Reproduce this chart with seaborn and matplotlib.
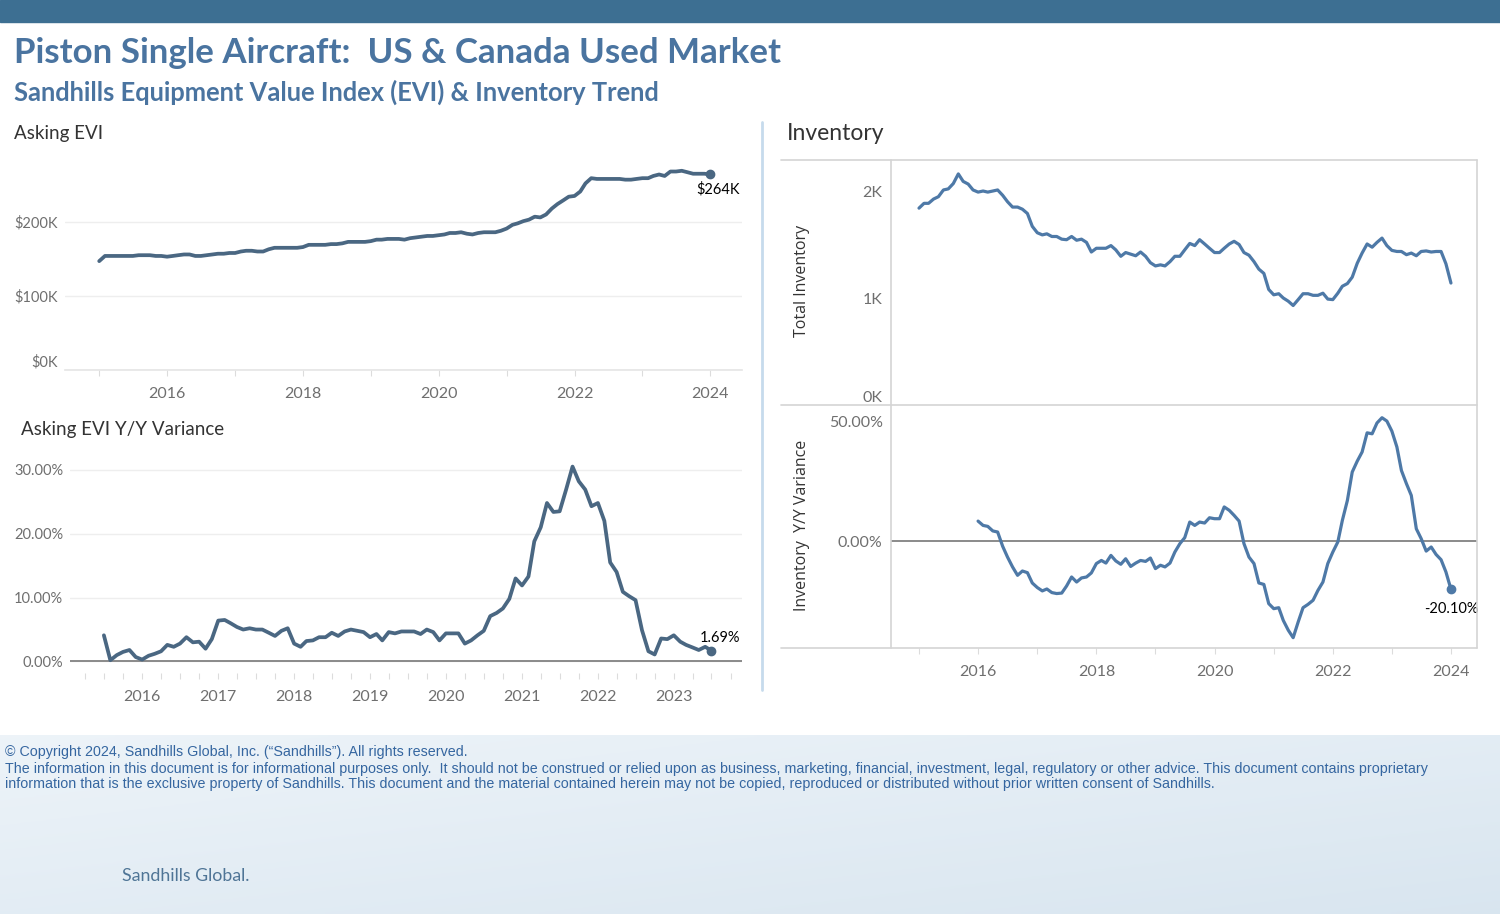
import matplotlib
matplotlib.use("Agg")
import matplotlib.pyplot as plt
import matplotlib.dates as mdates
from matplotlib.ticker import FuncFormatter
from matplotlib.lines import Line2D
from matplotlib.patches import Rectangle
import numpy as np
import pandas as pd
import seaborn as sns

# asking EVI, monthly Jan 2015 - Jan 2024, in $K
evi_k = [147, 154, 154, 154, 154, 154, 154, 155, 155, 155, 154, 154,
         153, 154, 155, 156, 156, 154, 154, 155, 156, 157, 157, 158,
         158, 160, 161, 161, 160, 160, 163, 165, 165, 165, 165, 165,
         166, 169, 169, 169, 169, 170, 170, 171, 173, 173, 173, 173,
         174, 176, 176, 177, 177, 177, 176, 178, 179, 180, 181, 181,
         182, 183, 185, 185, 186, 184, 183, 185, 186, 186, 186, 188,
         191, 196, 198, 201, 203, 207, 206, 210, 218, 224, 229, 234,
         235, 241, 252, 259, 258, 258, 258, 258, 258, 257, 257, 258,
         259, 259, 262, 264, 262, 268, 268, 269, 267, 265, 265, 265,
         264]

# asking EVI y/y variance (%), monthly Jul 2015 - Jul 2023
evi_yoy = [4.1, 0.2, 1.0, 1.5, 1.8, 0.7, 0.3, 0.9, 1.2, 1.6,
           2.6, 2.3, 2.8, 3.8, 3.0, 3.1, 2.0, 3.5, 6.4, 6.5,
           6.0, 5.4, 5.0, 5.2, 5.0, 5.0, 4.5, 4.0, 4.8, 5.2,
           2.8, 2.3, 3.2, 3.3, 3.8, 3.8, 4.5, 4.0, 4.7, 5.0,
           4.8, 4.6, 3.8, 4.3, 3.3, 4.6, 4.4, 4.7, 4.7, 4.7,
           4.3, 5.0, 4.6, 3.3, 4.4, 4.4, 4.4, 2.8, 3.3, 4.1,
           4.8, 7.1, 7.6, 8.3, 9.8, 13.0, 11.9, 13.3, 18.8, 21.0,
           24.8, 23.4, 23.5, 26.9, 30.5, 28.2, 26.9, 24.3, 24.8, 22.0,
           15.5, 14.0, 10.9, 10.2, 9.6, 4.9, 1.6, 1.1, 3.6, 3.5,
           4.1, 3.1, 2.6, 2.2, 1.8, 2.3, 1.69]

# total inventory, monthly Jan 2015 - Jan 2024
inv_total = [1840, 1885, 1885, 1925, 1947, 2010, 2020, 2070, 2160, 2090, 2065, 2010,
             1990, 2000, 1990, 2000, 2010, 1960, 1900, 1850, 1850, 1830, 1790, 1670,
             1610, 1590, 1600, 1575, 1575, 1550, 1545, 1575, 1540, 1550, 1520, 1430,
             1465, 1465, 1465, 1490, 1450, 1390, 1425, 1410, 1395, 1430, 1390, 1330,
             1300, 1310, 1300, 1340, 1390, 1390, 1450, 1510, 1490, 1545, 1505, 1465,
             1425, 1425, 1465, 1505, 1530, 1500, 1425, 1400, 1340, 1270, 1230, 1080,
             1030, 1040, 1000, 970, 930, 985, 1040, 1040, 1025, 1025, 1045, 990,
             985, 1045, 1110, 1135, 1195, 1325, 1420, 1505, 1475, 1520, 1560, 1490,
             1445, 1435, 1435, 1405, 1420, 1395, 1435, 1440, 1430, 1435, 1435, 1320,
             1140]

# inventory y/y variance (%), monthly Jan 2016 - Jan 2024
inv_yoy = [8.3, 6.5, 6.1, 4.2, 3.75, -2.2, -6.7, -10.8, -14.3, -12.5, -13.2, -17.5,
           -19.4, -20.8, -20.0, -21.5, -21.9, -21.7, -18.75, -15.0, -17.1, -15.4, -15.0, -13.3,
           -9.4, -8.1, -9.2, -6.0, -8.3, -9.7, -7.4, -10.6, -9.2, -8.1, -8.5, -7.1,
           -11.5, -10.1, -10.8, -9.2, -4.6, -1.1, 1.4, 7.9, 6.5, 7.9, 7.5, 9.7,
           9.3, 9.3, 14.2, 12.8, 10.7, 8.3, -1.1, -6.7, -9.4, -17.5, -18.1, -26.1,
           -28.2, -27.8, -33.1, -37.2, -40.3, -33.75, -27.8, -26.4, -24.7, -20.6, -17.1, -9.4,
           -4.6, -0.4, 8.6, 16.9, 28.75, 33.3, 37.1, 45.1, 44.7, 49.2, 51.4, 50.0,
           45.8, 39.2, 29.4, 23.9, 19.0, 5.1, 1.0, -4.2, -2.5, -5.6, -7.8, -12.9,
           -20.1]

evi_df = pd.DataFrame({"date": pd.date_range("2015-01-01", periods=len(evi_k), freq="MS"),
                       "value": np.array(evi_k) * 1000})
evi_yoy_df = pd.DataFrame({"date": pd.date_range("2015-07-01", periods=len(evi_yoy), freq="MS"),
                           "value": evi_yoy})
inv_df = pd.DataFrame({"date": pd.date_range("2015-01-01", periods=len(inv_total), freq="MS"),
                       "value": inv_total})
inv_yoy_df = pd.DataFrame({"date": pd.date_range("2016-01-01", periods=len(inv_yoy), freq="MS"),
                           "value": inv_yoy})

sns.set_theme(style="white")
plt.rcParams["font.family"] = ["Lato", "DejaVu Sans"]

W, H = 1500, 914
fig = plt.figure(figsize=(W / 100, H / 100), dpi=100)
fig.patch.set_facecolor("white")

def px_axes(x0, y0, x1, y1, **kw):
    return fig.add_axes([x0 / W, 1 - y1 / H, (x1 - x0) / W, (y1 - y0) / H], **kw)

def ftext(x, y, s, **kw):
    return fig.text(x / W, 1 - y / H, s, **kw)

def fline(x0, y0, x1, y1, **kw):
    fig.add_artist(Line2D([x0 / W, x1 / W], [1 - y0 / H, 1 - y1 / H], **kw))

# footer background (light sky)
bg = px_axes(0, 735, W, H, zorder=0)
gx = np.linspace(0, 1, 300)
gy = np.linspace(0, 1, 60)
GX, GY = np.meshgrid(gx, gy)
c1 = np.array([0.93, 0.955, 0.975])
c2 = np.array([0.85, 0.90, 0.94])
t = (0.5 * GX + 0.5 * GY)[..., None]
bg.imshow(c1 * (1 - t) + c2 * t, aspect="auto", extent=[0, 1, 0, 1])
bg.axis("off")

# top banner
fig.add_artist(Rectangle((0, 1 - 22 / H), 1, 22 / H, transform=fig.transFigure,
                         color="#3d6f92", zorder=1))

title_c = "#4a74a0"
ftext(14, 53, "Piston Single Aircraft:  US & Canada Used Market", fontsize=25.1,
      fontweight="bold", color=title_c, va="center")
ftext(14, 92, "Sandhills Equipment Value Index (EVI) & Inventory Trend", fontsize=18.4,
      fontweight="bold", color=title_c, va="center")

head_c = "#333333"
tick_c = "#6f6f6f"
evi_c = "#4a6782"
inv_c = "#4e79a7"

ftext(14, 133, "Asking EVI", fontsize=13.5, color=head_c, va="center")
ftext(21, 429, "Asking EVI Y/Y Variance", fontsize=13.5, color=head_c, va="center")
ftext(787, 133, "Inventory", fontsize=16.5, color=head_c, va="center")

# separator
fline(762, 122, 762, 690, color="#c6dbec", lw=2)

def style_time_axis(ax, major_years, minor):
    ax.xaxis.set_major_locator(mdates.YearLocator(major_years))
    ax.xaxis.set_major_formatter(mdates.DateFormatter("%Y"))
    ax.xaxis.set_minor_locator(minor)
    ax.tick_params(axis="x", which="both", bottom=True, length=4, width=0.8,
                   color="#dcdcdc", labelsize=11.5, labelcolor=tick_c, pad=8)
    ax.tick_params(axis="y", left=False, length=0, labelsize=10.5, labelcolor=tick_c, pad=5)
    ax.set_xlabel("")
    ax.set_ylabel("")

# ---- Asking EVI
ax1 = px_axes(65, 153, 742, 370)
sns.lineplot(data=evi_df, x="date", y="value", ax=ax1, color=evi_c, lw=2.7)
ax1.plot(evi_df["date"].iloc[-1], evi_df["value"].iloc[-1], "o", color=evi_c, ms=6)
ax1.set_xlim(pd.Timestamp("2014-07-01"), pd.Timestamp("2024-06-20"))
ax1.set_ylim(0, 293000)
ax1.set_yticks([0, 100000, 200000], labels=["$0K", "$100K", "$200K"])
ax1.get_yticklabels()[0].set_va("bottom")
ax1.grid(axis="y", color="#eeeeee", lw=1)
for s in ["top", "right", "left"]:
    ax1.spines[s].set_visible(False)
ax1.spines["bottom"].set_color("#e6e6e6")
style_time_axis(ax1, 2, mdates.YearLocator(1))
ax1.annotate("$264K", (evi_df["date"].iloc[-1], evi_df["value"].iloc[-1]),
             xytext=(6, -14), textcoords="offset points", ha="center", fontsize=10.5,
             color="black")

# ---- Asking EVI Y/Y
ax2 = px_axes(70, 457, 742, 673)
sns.lineplot(data=evi_yoy_df, x="date", y="value", ax=ax2, color=evi_c, lw=2.7)
ax2.plot(evi_yoy_df["date"].iloc[-1], evi_yoy_df["value"].iloc[-1], "o", color=evi_c, ms=6)
ax2.set_xlim(pd.Timestamp("2015-01-19"), pd.Timestamp("2023-11-25"))
ax2.set_ylim(-1.8, 32)
ax2.set_yticks([0, 10, 20, 30])
ax2.yaxis.set_major_formatter(FuncFormatter(lambda v, p: f"{v:.2f}%"))
ax2.grid(axis="y", color="#eeeeee", lw=1)
ax2.axhline(0, color="#8a8a8a", lw=1.4, zorder=1)
for s in ["top", "right", "left", "bottom"]:
    ax2.spines[s].set_visible(False)
style_time_axis(ax2, 1, mdates.MonthLocator(bymonth=[4, 7, 10]))
ax2.annotate("1.69%", (evi_yoy_df["date"].iloc[-1], evi_yoy_df["value"].iloc[-1]),
             xytext=(6, 6), textcoords="offset points", ha="center", fontsize=10.5,
             color="black")

# ---- Inventory frame lines
frame_c = "#d4d4d4"
fline(781, 160, 1477, 160, color=frame_c, lw=1.2)
fline(781, 405, 1477, 405, color=frame_c, lw=1.2)
fline(781, 648, 1477, 648, color=frame_c, lw=1.2)
fline(891, 160, 891, 648, color=frame_c, lw=1.2)
fline(1477, 160, 1477, 648, color=frame_c, lw=1.2)

# ---- Total inventory
ax3 = px_axes(891, 160, 1477, 405)
sns.lineplot(data=inv_df, x="date", y="value", ax=ax3, color=inv_c, lw=2.3)
ax3.set_xlim(pd.Timestamp("2014-07-12"), pd.Timestamp("2024-06-10"))
ax3.set_ylim(0, 2290)
ax3.set_yticks([0, 1000, 2000], labels=["0K", "1K", "2K"])
ax3.get_yticklabels()[0].set_va("bottom")
for s in ax3.spines.values():
    s.set_visible(False)
ax3.set_xticks([])
ax3.tick_params(axis="y", left=False, length=0, labelsize=11.5, labelcolor=tick_c, pad=6)
ax3.set_xlabel("")
ax3.set_ylabel("")
ftext(802, 281, "Total Inventory", rotation=90, fontsize=11.5, color=head_c,
      ha="center", va="center", family=["Open Sans", "DejaVu Sans"])

# ---- Inventory Y/Y
ax4 = px_axes(891, 405, 1477, 648)
sns.lineplot(data=inv_yoy_df, x="date", y="value", ax=ax4, color=inv_c, lw=2.3)
ax4.plot(inv_yoy_df["date"].iloc[-1], inv_yoy_df["value"].iloc[-1], "o", color=inv_c, ms=6)
ax4.set_xlim(pd.Timestamp("2014-07-12"), pd.Timestamp("2024-06-10"))
ax4.set_ylim(-44.6, 56.7)
ax4.set_yticks([0, 50])
ax4.yaxis.set_major_formatter(FuncFormatter(lambda v, p: f"{v:.2f}%"))
ax4.axhline(0, color="#8a8a8a", lw=1.4, zorder=1)
for s in ax4.spines.values():
    s.set_visible(False)
style_time_axis(ax4, 2, mdates.YearLocator(1))
ax4.tick_params(axis="y", labelsize=11.5, pad=6)
ax4.annotate("-20.10%", (inv_yoy_df["date"].iloc[-1], inv_yoy_df["value"].iloc[-1]),
             xytext=(0, -17), textcoords="offset points", ha="center", fontsize=10.5,
             color="black")
ftext(802, 525, "Inventory  Y/Y Variance", rotation=90, fontsize=11.5, color=head_c,
      ha="center", va="center", family=["Open Sans", "DejaVu Sans"])

# ---- footer text
foot_c = "#3566a0"
foot_font = ["Liberation Sans", "DejaVu Sans"]
foot_size = 10.3
ftext(5, 752, "\u00a9 Copyright 2024, Sandhills Global, Inc. (\u201cSandhills\u201d). All rights reserved.",
      fontsize=foot_size, color=foot_c, va="center", family=foot_font)
ftext(5, 769, "The information in this document is for informational purposes only.  It should not be "
      "construed or relied upon as business, marketing, financial, investment, legal, regulatory or "
      "other advice. This document contains proprietary",
      fontsize=foot_size, color=foot_c, va="center", family=foot_font)
ftext(5, 784, "information that is the exclusive property of Sandhills. This document and the material "
      "contained herein may not be copied, reproduced or distributed without prior written consent of Sandhills.",
      fontsize=foot_size, color=foot_c, va="center", family=foot_font)
ftext(122, 876, "Sandhills Global.", fontsize=12.8, color="#4f7596", va="center")

fig.savefig("out.png", dpi=100)
